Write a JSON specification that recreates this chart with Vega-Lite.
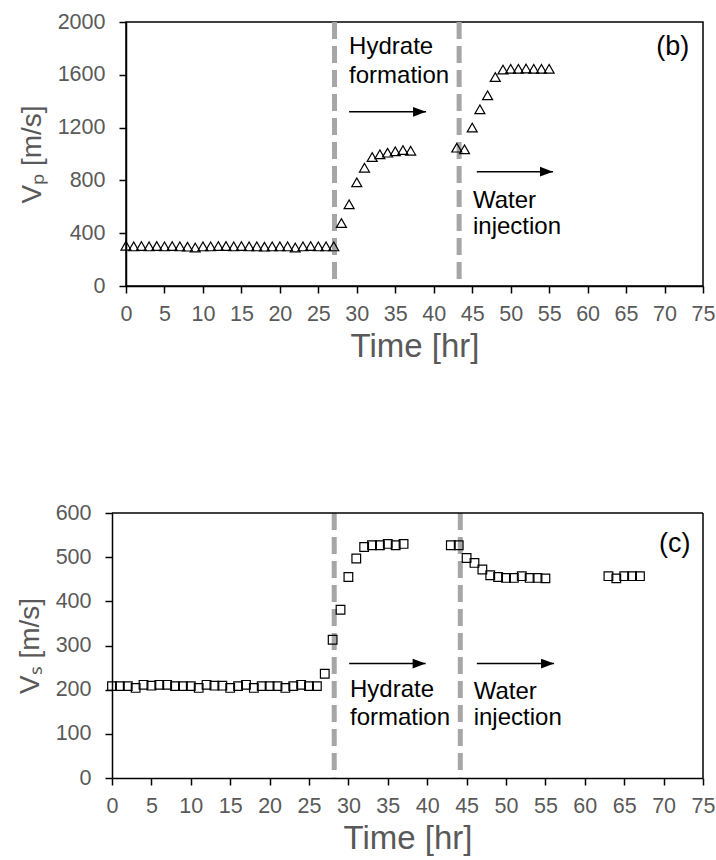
{
  "$schema": "https://vega.github.io/schema/vega-lite/v6.json",
  "padding": {"left": 16, "top": 10, "right": 2, "bottom": 5},
  "background": "white",
  "spacing": 137,
  "config": {
    "font": "Liberation Sans",
    "view": {"stroke": "black", "strokeWidth": 1.5},
    "axis": {"grid": false, "domainColor": "black", "domainWidth": 1.5, "tickColor": "black", "tickWidth": 1.5, "tickSize": 7,
      "labelFont": "Liberation Sans", "labelFontSize": 21.5, "labelColor": "#595959", "labelOverlap": false,
      "titleFont": "Liberation Sans", "titleFontSize": 28, "titleFontWeight": "normal", "titleColor": "#595959"},
    "axisX": {"labelPadding": 10, "titlePadding": 6, "labelFlush": false, "titleFontSize": 33},
    "axisY": {"labelPadding": 14, "titlePadding": 11, "format": "d"}
  },
  "datasets": {
    "vp": [
      {"time": 0, "v": 305}, {"time": 1, "v": 300}, {"time": 2, "v": 302}, {"time": 3, "v": 300}, {"time": 4, "v": 303},
      {"time": 5, "v": 300}, {"time": 6, "v": 302}, {"time": 7, "v": 300}, {"time": 8, "v": 298}, {"time": 9, "v": 292},
      {"time": 10, "v": 300}, {"time": 11, "v": 300}, {"time": 12, "v": 302}, {"time": 13, "v": 303}, {"time": 14, "v": 300},
      {"time": 15, "v": 302}, {"time": 16, "v": 300}, {"time": 17, "v": 300}, {"time": 18, "v": 298}, {"time": 19, "v": 300},
      {"time": 20, "v": 300}, {"time": 21, "v": 300}, {"time": 22, "v": 292}, {"time": 23, "v": 300}, {"time": 24, "v": 302},
      {"time": 25, "v": 300}, {"time": 26, "v": 300}, {"time": 27, "v": 300},
      {"time": 28, "v": 477}, {"time": 29, "v": 619}, {"time": 30, "v": 785}, {"time": 31, "v": 896}, {"time": 32, "v": 977},
      {"time": 33, "v": 998}, {"time": 34, "v": 1010}, {"time": 35, "v": 1020}, {"time": 36, "v": 1030}, {"time": 37, "v": 1025},
      {"time": 43, "v": 1048}, {"time": 44, "v": 1035}, {"time": 45, "v": 1200}, {"time": 46, "v": 1338}, {"time": 47, "v": 1445},
      {"time": 48, "v": 1583}, {"time": 49, "v": 1640}, {"time": 50, "v": 1645}, {"time": 51, "v": 1645}, {"time": 52, "v": 1648},
      {"time": 53, "v": 1645}, {"time": 54, "v": 1645}, {"time": 55, "v": 1645}
    ],
    "vs": [
      {"time": 0, "v": 208}, {"time": 1, "v": 208}, {"time": 2, "v": 208}, {"time": 3, "v": 204}, {"time": 4, "v": 211},
      {"time": 5, "v": 209}, {"time": 6, "v": 211}, {"time": 7, "v": 211}, {"time": 8, "v": 208}, {"time": 9, "v": 208},
      {"time": 10, "v": 208}, {"time": 11, "v": 204}, {"time": 12, "v": 211}, {"time": 13, "v": 209}, {"time": 14, "v": 209},
      {"time": 15, "v": 204}, {"time": 16, "v": 208}, {"time": 17, "v": 211}, {"time": 18, "v": 204}, {"time": 19, "v": 208},
      {"time": 20, "v": 208}, {"time": 21, "v": 208}, {"time": 22, "v": 204}, {"time": 23, "v": 208}, {"time": 24, "v": 211},
      {"time": 25, "v": 208}, {"time": 26, "v": 208},
      {"time": 27, "v": 236}, {"time": 28, "v": 313}, {"time": 29, "v": 381}, {"time": 30, "v": 455}, {"time": 31, "v": 497},
      {"time": 32, "v": 523}, {"time": 33, "v": 527}, {"time": 34, "v": 527}, {"time": 35, "v": 530}, {"time": 36, "v": 527},
      {"time": 37, "v": 530},
      {"time": 43, "v": 527}, {"time": 44, "v": 527}, {"time": 45, "v": 498}, {"time": 46, "v": 487}, {"time": 47, "v": 472},
      {"time": 48, "v": 459}, {"time": 49, "v": 455}, {"time": 50, "v": 453}, {"time": 51, "v": 453}, {"time": 52, "v": 457},
      {"time": 53, "v": 453}, {"time": 54, "v": 453}, {"time": 55, "v": 452},
      {"time": 63, "v": 457}, {"time": 64, "v": 452}, {"time": 65, "v": 457}, {"time": 66, "v": 457}, {"time": 67, "v": 457}
    ],
    "linesB": [{"time": 27.1, "v": 0}, {"time": 43.3, "v": 0}],
    "linesC": [{"time": 28.2, "v": 0}, {"time": 44.2, "v": 0}],
    "borderC": [{"x1": 0, "x2": 75, "y": 600}],
    "borderCv": [{"x": 75}],
    "arrowsB": [{"x1": 29, "x2": 39, "y": 1320}, {"x1": 45.6, "x2": 55.5, "y": 866}],
    "arrowsC": [{"x1": 30.1, "x2": 39.8, "y": 259}, {"x1": 46.3, "x2": 56.1, "y": 259}],
    "textB": [
      {"x": 29.0, "y": 1758, "label": "Hydrate"},
      {"x": 29.0, "y": 1538, "label": "formation"},
      {"x": 45.1, "y": 591, "label": "Water"},
      {"x": 45.1, "y": 394, "label": "injection"}
    ],
    "textC": [
      {"x": 30.2, "y": 183, "label": "Hydrate"},
      {"x": 30.2, "y": 120, "label": "formation"},
      {"x": 45.9, "y": 180, "label": "Water"},
      {"x": 45.9, "y": 119, "label": "injection"}
    ],
    "panelB": [{"x": 73.2, "y": 1750, "label": "(b)"}],
    "panelC": [{"x": 73.4, "y": 512, "label": "(c)"}]
  },
  "vconcat": [
    {
      "width": 577,
      "height": 264,
      "encoding": {
        "x": {"type": "quantitative", "scale": {"domain": [0, 75], "nice": false},
          "axis": {"values": [0, 5, 10, 15, 20, 25, 30, 35, 40, 45, 50, 55, 60, 65, 70, 75], "title": "Time [hr]", "labelOverlap": false}},
        "y": {"type": "quantitative", "scale": {"domain": [0, 2000], "nice": false},
          "axis": {"values": [0, 400, 800, 1200, 1600, 2000], "title": "Vₚ [m/s]", "labelOverlap": false}}
      },
      "layer": [
        {
          "data": {"name": "linesB"},
          "mark": {"type": "rule", "color": "#A6A6A6", "strokeWidth": 5, "strokeDash": [17, 7]},
          "encoding": {"x": {"field": "time", "type": "quantitative"}, "y": null}
        },
        {
          "data": {"name": "vp"},
          "mark": {"type": "point", "shape": "triangle-up", "size": 100, "filled": false, "stroke": "black", "strokeWidth": 1.2, "opacity": 1},
          "encoding": {
            "x": {"field": "time", "type": "quantitative"},
            "y": {"field": "v", "type": "quantitative"}
          }
        },
        {
          "data": {"name": "arrowsB"},
          "mark": {"type": "rule", "color": "black", "strokeWidth": 1.5},
          "encoding": {
            "x": {"field": "x1", "type": "quantitative"},
            "x2": {"field": "x2"},
            "y": {"field": "y", "type": "quantitative"}
          }
        },
        {
          "data": {"name": "arrowsB"},
          "mark": {"type": "point", "shape": "M-2,-0.75L0,0L-2,0.75Z", "size": 169, "filled": true, "color": "black", "opacity": 1},
          "encoding": {
            "x": {"field": "x2", "type": "quantitative"},
            "y": {"field": "y", "type": "quantitative"}
          }
        },
        {
          "data": {"name": "textB"},
          "mark": {"type": "text", "align": "left", "baseline": "alphabetic", "fontSize": 24, "color": "black"},
          "encoding": {
            "x": {"field": "x", "type": "quantitative"},
            "y": {"field": "y", "type": "quantitative"},
            "text": {"field": "label"}
          }
        },
        {
          "data": {"name": "panelB"},
          "mark": {"type": "text", "align": "right", "baseline": "alphabetic", "fontSize": 27, "color": "black"},
          "encoding": {
            "x": {"field": "x", "type": "quantitative"},
            "y": {"field": "y", "type": "quantitative"},
            "text": {"field": "label"}
          }
        }
      ]
    },
    {
      "width": 577,
      "height": 265,
      "view": {"stroke": null},
      "encoding": {
        "x": {"type": "quantitative", "scale": {"domain": [0, 75], "nice": false, "range": [-14, 577]},
          "axis": {"values": [0, 5, 10, 15, 20, 25, 30, 35, 40, 45, 50, 55, 60, 65, 70, 75], "title": "Time [hr]", "labelOverlap": false}},
        "y": {"type": "quantitative", "scale": {"domain": [0, 600], "nice": false},
          "axis": {"values": [0, 100, 200, 300, 400, 500, 600], "title": "Vₛ [m/s]", "labelOverlap": false, "offset": 14}}
      },
      "layer": [
        {
          "data": {"name": "linesC"},
          "mark": {"type": "rule", "color": "#A6A6A6", "strokeWidth": 5, "strokeDash": [17, 7]},
          "encoding": {"x": {"field": "time", "type": "quantitative"}, "y": null}
        },
        {
          "data": {"name": "borderC"},
          "mark": {"type": "rule", "color": "black", "strokeWidth": 1.5},
          "encoding": {
            "x": {"field": "x1", "type": "quantitative"},
            "x2": {"field": "x2"},
            "y": {"field": "y", "type": "quantitative"}
          }
        },
        {
          "data": {"name": "borderCv"},
          "mark": {"type": "rule", "color": "black", "strokeWidth": 1.5},
          "encoding": {"x": {"field": "x", "type": "quantitative"}, "y": null}
        },
        {
          "data": {"name": "vs"},
          "mark": {"type": "point", "shape": "square", "size": 75, "filled": false, "stroke": "black", "strokeWidth": 1.2, "opacity": 1},
          "encoding": {
            "x": {"field": "time", "type": "quantitative"},
            "y": {"field": "v", "type": "quantitative"}
          }
        },
        {
          "data": {"name": "arrowsC"},
          "mark": {"type": "rule", "color": "black", "strokeWidth": 1.5},
          "encoding": {
            "x": {"field": "x1", "type": "quantitative"},
            "x2": {"field": "x2"},
            "y": {"field": "y", "type": "quantitative"}
          }
        },
        {
          "data": {"name": "arrowsC"},
          "mark": {"type": "point", "shape": "M-2,-0.75L0,0L-2,0.75Z", "size": 169, "filled": true, "color": "black", "opacity": 1},
          "encoding": {
            "x": {"field": "x2", "type": "quantitative"},
            "y": {"field": "y", "type": "quantitative"}
          }
        },
        {
          "data": {"name": "textC"},
          "mark": {"type": "text", "align": "left", "baseline": "alphabetic", "fontSize": 24, "color": "black"},
          "encoding": {
            "x": {"field": "x", "type": "quantitative"},
            "y": {"field": "y", "type": "quantitative"},
            "text": {"field": "label"}
          }
        },
        {
          "data": {"name": "panelC"},
          "mark": {"type": "text", "align": "right", "baseline": "alphabetic", "fontSize": 27, "color": "black"},
          "encoding": {
            "x": {"field": "x", "type": "quantitative"},
            "y": {"field": "y", "type": "quantitative"},
            "text": {"field": "label"}
          }
        }
      ]
    }
  ]
}
